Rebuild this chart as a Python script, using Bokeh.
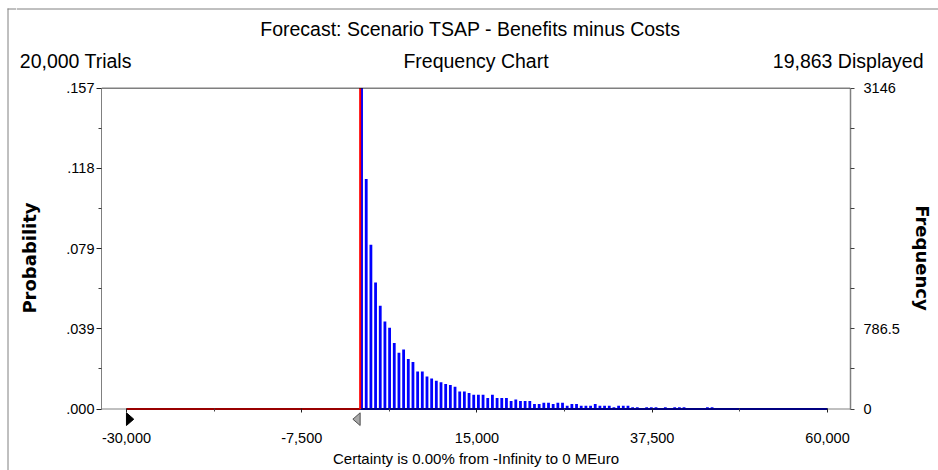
from bokeh.plotting import figure
from bokeh.layouts import column, row
from bokeh.models import FixedTicker, LinearAxis, Span, Range1d
from bokeh.core.properties import value
from bokeh.embed import file_html
from bokeh.resources import INLINE

# ---------------- data ----------------
title_text = "Forecast: Scenario TSAP - Benefits minus Costs"
trials_text = "20,000 Trials"
chart_text = "Frequency Chart"
displayed_text = "19,863 Displayed"
certainty_text = "Certainty is 0.00% from -Infinity to 0 MEuro"

bin_width = 600
first_bin = 0
counts = [3146, 2254, 1610, 1241, 1012, 858, 797, 647, 552, 584,
          490, 461, 368, 368, 319, 300, 277, 261, 245, 235,
          219, 172, 172, 157, 140, 140, 140, 108, 140, 108,
          108, 108, 78, 94, 78, 78, 78, 49, 49, 62,
          62, 49, 62, 62, 32, 49, 49, 32, 32, 32,
          49, 32, 32, 32, 18, 32, 32, 32, 18, 18,
          0, 18, 18, 18, 0, 18, 0, 18, 18, 18,
          0, 0, 0, 0, 18, 18]
max_count = 3146

x_ticks = [-30000, -7500, 15000, 37500, 60000]
x_tick_labels = ["-30,000", "-7,500", "15,000", "37,500", "60,000"]
x_minor_ticks = [-18750, 3750, 26250, 48750]

prob_ticks = [0, 786.5, 1573, 2359.5, 3146]
prob_labels = [".000", ".039", ".079", ".118", ".157"]
prob_minor = [393.25, 1179.75, 1966.25, 2752.75]

freq_ticks = [0, 393.25, 786.5, 1179.75, 1573, 1966.25, 2359.5, 2752.75, 3146]
freq_labels = ["0", "", "786.5", "", "", "", "", "", "3146"]

certainty_low = -30000
certainty_high = 0
range_high = 60000

FONT = "Liberation Sans"
FRAME_GRAY = "#808080"

TOTAL_W, TOTAL_H = 938, 470
SW = 16            # left strip carrying the outer frame line
HH = 79            # header height
CW = TOTAL_W - SW  # width of header and chart
MH = TOTAL_H - HH  # chart height


def blank(width, height):
    f = figure(width=width, height=height,
               x_range=Range1d(0, width), y_range=Range1d(height, 0),
               x_axis_type=None, y_axis_type=None,
               output_backend="svg", toolbar_location=None,
               min_border_left=0, min_border_right=0,
               min_border_top=0, min_border_bottom=0,
               outline_line_color=None, background_fill_color="white",
               border_fill_color="white")
    f.frame_align = False
    f.xgrid.visible = False
    f.ygrid.visible = False
    return f


# ---------------- left strip: outer frame (left edge + corner) ----------------
strip = blank(SW, TOTAL_H)
strip.segment(x0=[7.5, 7], y0=[8, 8.5], x1=[7.5, SW], y1=[TOTAL_H, 8.5],
              line_color=FRAME_GRAY, line_width=1)

# ---------------- header: outer frame top edge + texts ----------------
header = blank(CW, HH)
header.segment(x0=[0], y0=[8.5], x1=[CW], y1=[8.5], line_color=FRAME_GRAY, line_width=1)


def htext(x, y, text, align):
    header.text(x=[x - SW], y=[y], text=[text], text_align=align,
                text_baseline="middle", text_font=value(FONT),
                text_font_size=value("19.5px"), text_color="black")


htext(470, 28, title_text, "center")
htext(19.3, 60.5, trials_text, "left")
htext(475.5, 60.5, chart_text, "center")
htext(923, 60.5, displayed_text, "right")

# ---------------- main chart ----------------
units_per_px = max_count / 321.0
x_start, x_end = -33205, 62950
p = figure(width=CW, height=MH,
           x_range=Range1d(x_start, x_end),
           y_range=Range1d(-19.5 * units_per_px, max_count + 0.5 * units_per_px),
           output_backend="svg", toolbar_location=None,
           min_border_left=100 - SW, min_border_right=88,
           min_border_top=8, min_border_bottom=42,
           background_fill_color="white", border_fill_color="white",
           outline_line_color=None)
p.frame_align = False
p.xgrid.grid_line_color = None
p.ygrid.grid_line_color = None

# left axis (probability)
ya = p.yaxis[0]
ya.ticker = FixedTicker(ticks=prob_ticks, minor_ticks=prob_minor)
ya.major_label_overrides = dict(zip(prob_ticks, prob_labels))
ya.bounds = (0, max_count)
ya.axis_label = "Probability"
ya.axis_label_text_font = "DejaVu Sans"
ya.axis_label_text_font_style = "bold"
ya.axis_label_text_font_size = "18px"
ya.axis_label_text_color = "black"
ya.axis_label_standoff = 23
ya.major_label_text_font = FONT
ya.major_label_text_font_size = "14.5px"
ya.major_label_text_color = "black"
ya.major_label_standoff = 2
ya.major_tick_out = 5
ya.major_tick_in = 0
ya.minor_tick_out = 3
ya.minor_tick_in = 0
ya.axis_line_color = FRAME_GRAY
ya.major_tick_line_color = "#202020"
ya.minor_tick_line_color = "#404040"

# right axis (frequency)
ra = LinearAxis(ticker=FixedTicker(ticks=freq_ticks),
                major_label_overrides=dict(zip(freq_ticks, freq_labels)),
                bounds=(0, max_count))
ra.axis_label = "Frequency"
ra.axis_label_text_font = "DejaVu Sans"
ra.axis_label_text_font_style = "bold"
ra.axis_label_text_font_size = "18px"
ra.axis_label_text_color = "black"
ra.axis_label_standoff = 9
ra.major_label_text_font = FONT
ra.major_label_text_font_size = "14.5px"
ra.major_label_text_color = "black"
ra.major_label_standoff = 9
ra.major_tick_out = 4
ra.major_tick_in = 0
ra.minor_tick_line_color = None
ra.axis_line_color = FRAME_GRAY
ra.axis_line_width = 1.5
ra.major_tick_line_color = "#404040"
p.add_layout(ra, "right")

# bottom axis: sits at frame bottom, ticks reach up to the value-0 line
xa = p.xaxis[0]
xa.ticker = FixedTicker(ticks=x_ticks, minor_ticks=x_minor_ticks)
xa.major_label_overrides = dict(zip(x_ticks, x_tick_labels))
xa.axis_label = certainty_text
xa.axis_label_text_font = FONT
xa.axis_label_text_font_style = "normal"
xa.axis_label_text_font_size = "15px"
xa.axis_label_text_color = "black"
xa.axis_label_standoff = 4
xa.major_label_text_font = FONT
xa.major_label_text_font_size = "14.5px"
xa.major_label_text_color = "black"
xa.major_label_standoff = 20
xa.major_tick_in = 20
xa.major_tick_out = -16
xa.minor_tick_in = 20
xa.minor_tick_out = -17
xa.axis_line_color = None
xa.major_tick_line_color = "#202020"
xa.minor_tick_line_color = "#404040"

# gray axis line at value 0
p.add_layout(Span(location=0, dimension="width", line_color=FRAME_GRAY,
                  line_width=1, level="underlay"))

# bars
lefts = [first_bin + i * bin_width for i in range(len(counts))]
centers = [l + bin_width * 0.3 for l in lefts]
p.vbar(x=centers, top=counts, bottom=0, width=bin_width * 0.6,
       fill_color="#0000ff", line_color=None)

# certainty baselines
p.segment(x0=[certainty_low, certainty_high], y0=[0, 0],
          x1=[certainty_high, range_high], y1=[0, 0],
          line_color=["#990000", "#000080"], line_width=2)

# certainty grabber line
p.segment(x0=[certainty_high], y0=[0], x1=[certainty_high], y1=[max_count],
          line_color="#ff0000", line_width=2)

# top frame line
p.add_layout(Span(location=max_count, dimension="width",
                  line_color="black", line_width=1))

# grabber triangles below the axis
tri_w = 7.3 / (750.0 / (x_end - x_start))
ty0, ty1, tym = -3.8 * units_per_px, -16.5 * units_per_px, -10.2 * units_per_px
p.patches(xs=[[certainty_low, certainty_low, certainty_low + tri_w],
              [certainty_high, certainty_high, certainty_high - tri_w]],
          ys=[[ty0, ty1, tym], [ty0, ty1, tym]],
          fill_color=["black", "#a8a8a8"], line_color=["black", "#505050"],
          line_width=1)

layout = row(strip, column(header, p))
open("out.html", "w").write(file_html(layout, INLINE))
